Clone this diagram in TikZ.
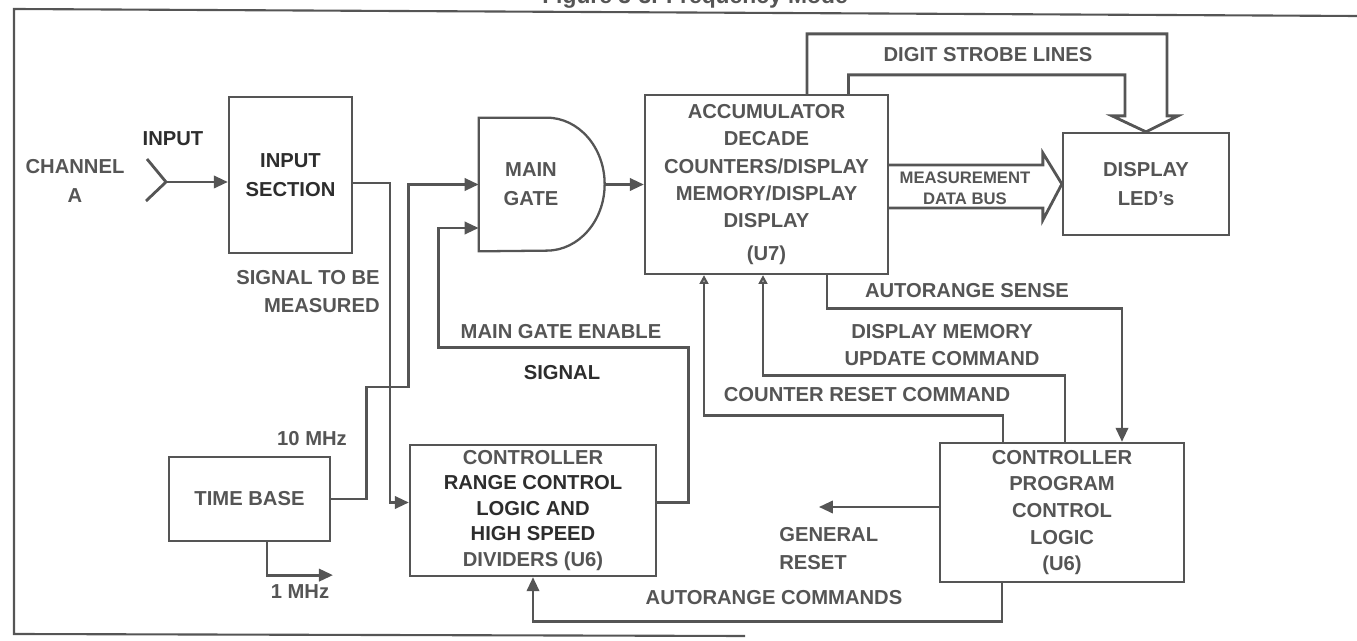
\documentclass[tikz,border=0pt]{standalone}
\usepackage{fontspec}
\setmainfont{Liberation Sans}
\usetikzlibrary{arrows.meta, calc}
\definecolor{inkgray}{RGB}{85,85,85}
\definecolor{darkink}{RGB}{45,45,45}

\begin{document}
\begin{tikzpicture}[
  x=0.02cm, y=-0.02cm,
  every node/.style = {font=\fontsize{11.5}{14.5}\selectfont\bfseries, text=inkgray},
  box/.style       = {draw=inkgray, line width=1.3pt, align=center, inner sep=0pt},
  lbl/.style       = {align=center, inner sep=0pt},
  strong/.style    = {text=darkink},
  wire/.style      = {draw=inkgray, line width=1.6pt},
  arrow/.style     = {wire, -{Triangle[length=8pt, width=7pt]}},
  openarrow/.style = {wire, -{Triangle[open, length=5pt, width=5pt]}},
  bus/.style       = {draw=inkgray, line width=1.6pt, line join=miter},
]
\useasboundingbox (0,0) rectangle (1357,641);

%% ==================== FRAME AND TITLE ====================
\node[anchor=base, font=\fontsize{13}{16}\selectfont\bfseries] (title) at (695,4) {Figure 3-3. Frequency Mode};
\draw[inkgray, line width=1.2pt] (745,636) -- (14,634) -- (14,9) -- (1357,16);

%% ==================== BLOCKS ====================
\node[box, strong, minimum width=2.46cm, minimum height=3.12cm] (inbox) at (290.5,175) {INPUT\\[2pt]SECTION};

\node[lbl, minimum width=2.52cm, minimum height=2.66cm] (gate) at (542,184.5)
      {MAIN\hspace*{0.44cm}\\[2pt]GATE\hspace*{0.44cm}};
\draw[wire, line width=1.3pt] (gate.north west) -- ++(68,0)
      arc[start angle=90, end angle=-90, x radius=1.16cm, y radius=1.33cm] -- (gate.south west) -- cycle;

\node[box, minimum width=4.86cm, minimum height=3.58cm] (acc) at (766.5,184.5)
      {ACCUMULATOR\\[1pt]DECADE\\[1pt]COUNTERS/DISPLAY\\[1pt]MEMORY/DISPLAY\\[1pt]DISPLAY\hspace*{1.24cm}\\[4pt](U7)};

\node[box, minimum width=3.32cm, minimum height=2.04cm] (disp) at (1146,184) {DISPLAY\\[2pt]LED's};

\node[box, minimum width=3.22cm, minimum height=1.68cm] (tb) at (249.5,499) {TIME BASE};

\node[box, minimum width=4.92cm, minimum height=2.62cm] (rng) at (533,510.5)
      {CONTROLLER\\{\color{darkink}RANGE CONTROL}\\{\color{darkink}LOGIC AND}\\{\color{darkink}HIGH SPEED}\\DIVIDERS (U6)};

\node[box, minimum width=4.88cm, minimum height=2.78cm] (prog) at (1062,512.5)
      {CONTROLLER\\PROGRAM\\[1pt]CONTROL\\[1pt]LOGIC\\(U6)};

%% ==================== LABELS ====================
\node[lbl] (chan) at (75,181) {CHANNEL\\[2pt]A};
\node[lbl, strong] (inlbl) at (173,139) {INPUT};
\node[lbl, align=right, anchor=east] (sigmeas) at (380,291.5) {SIGNAL TO BE\\[1pt]MEASURED};
\node[lbl] (strobelbl) at (988,55) {DIGIT STROBE LINES};
\node[lbl, font=\fontsize{9.5}{12}\selectfont\bfseries] (buslbl) at (965,188.5) {MEASUREMENT\\DATA BUS};
\node[lbl] (arslbl) at (967,291) {AUTORANGE SENSE};
\node[lbl] (dmlbl) at (942,345) {DISPLAY MEMORY\\[1pt]UPDATE COMMAND};
\node[lbl] (crlbl) at (867,395) {COUNTER RESET COMMAND};
\node[lbl] (mgelbl) at (561,332) {MAIN GATE ENABLE};
\node[lbl, strong] (siglbl) at (562,373) {SIGNAL};
\node[lbl] (tenlbl) at (312,439) {10 MHz};
\node[lbl] (onelbl) at (300,592) {1 MHz};
\node[lbl, align=left, anchor=west] (grlbl) at (779,548.5) {GENERAL\\[1pt]RESET};
\node[lbl] (aclbl) at (774,598) {AUTORANGE COMMANDS};

%% ==================== CONNECTORS ====================
%% input connector symbol
\coordinate (ant) at (166,182);
\draw[wire] (147,159) -- (ant) -- (146,201);
\draw[arrow] (ant) -- (ant -| inbox.west);

%% signal to be measured -> controller
\coordinate (sigx) at (390,183);
\draw[arrow] (sigx -| inbox.east) -- (sigx) |- ($(rng.west)+(0,-8)$);

%% 10 MHz -> main gate
\draw[arrow] (tb.east) -- ++(35,0) -- ++(0,-112) -- ++(42,0) |- (gate.west);

%% main gate enable
\draw[arrow] ($(rng.east)+(0,-8)$) -- ++(31,0) -- ++(0,-155) -- ++(-250,0) |- ($(gate.west)+(0,43.5)$);

%% gate -> accumulator
\draw[arrow] (gate.east) -- (acc.west);

%% 1 MHz out
\draw[arrow] ($(tb.south)+(17.5,0)$) |- ++(66,33);

%% digit strobe lines bus
\draw[bus] ($(acc.north)+(40.5,0)$) |- ($(disp.north)+(21,-98)$) -- ++(0,82) -- ++(11,0)
      -- (disp.north) -- ++(-34,-16) -- ++(13,0) |- ($(acc.north)+(82,-19)$) -- ++(0,19);

%% measurement data bus
\draw[bus] ($(acc.east)+(0,-19.5)$) -- ($(disp.west)+(-19,-19)$) -- ++(0,-12) -- (disp.west)
      -- ++(-19,36) -- ++(0,-12) -- ($(acc.east)+(0,23.5)$);

%% autorange sense
\draw[arrow] ($(acc.south)+(60.5,0)$) -- ++(0,33) -| ($(prog.north)+(60,0)$);

%% display memory update / counter reset
\draw[openarrow] ($(prog.north)+(3,0)$) |- ($(acc.south)+(-3.5,100)$) -- ($(acc.south)+(-3.5,0)$);
\draw[openarrow] ($(prog.north)+(-59,0)$) |- ($(acc.south)+(-62.5,140)$) -- ($(acc.south)+(-62.5,0)$);

%% general reset
\draw[arrow] ($(prog.west)+(0,-5.5)$) -- ++(-120,0);

%% autorange commands
\draw[arrow] ($(prog.south)+(-60,0)$) -- ++(0,38) -| (rng.south);

\end{tikzpicture}
\end{document}
